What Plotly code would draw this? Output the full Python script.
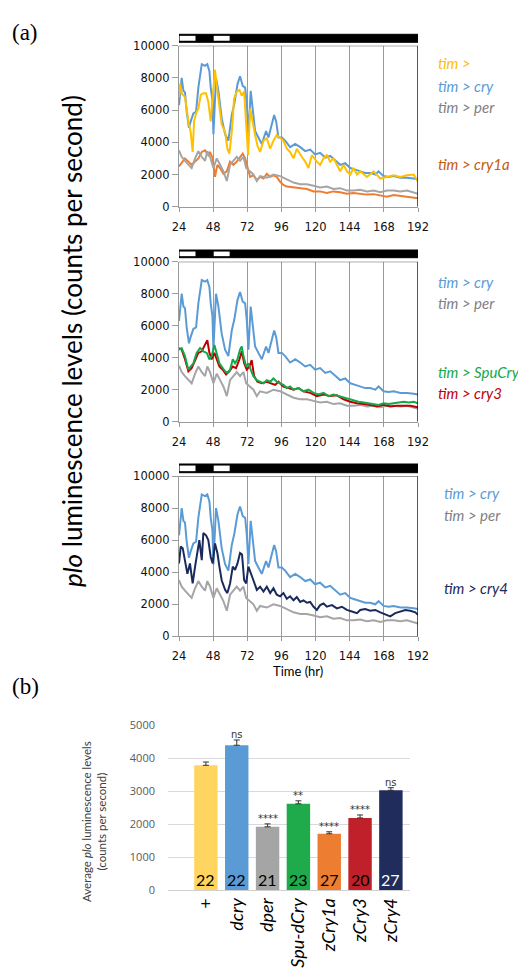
import plotly.graph_objects as go

# ---------------- data (panel a, values in thousands of counts/s) ----------------
cry_t = [24, 25.9, 27.1, 28.2, 29.4, 31.0, 32.2, 34.1, 36.0, 37.6, 40.0, 42.3, 43.9, 45.4, 46.3, 47.5, 48.2,
         50.0, 51.7, 54.0, 56.4, 58.7, 61.1, 62.9, 65.1, 66.9, 68.8, 70.5, 71.6, 72.8, 74.4, 75.9, 77.5,
         79.8, 82.2, 85.2, 86.9, 89.2, 90.9, 92.3, 93.9, 96.3, 98.6, 102.1, 105.7, 109.2, 112.7, 116.2,
         119.7, 123.2, 126.8, 130.3, 133.8, 137.3, 140.8, 144.4, 147.9, 151.4, 154.9, 158.4, 162.0, 164.3,
         167.8, 171.4, 174.9, 179.6, 184.3, 189.0, 192.0]
cry_v = [6.3, 8.0, 7.2, 7.1, 5.9, 4.9, 5.3, 5.8, 5.9, 7.4, 8.85, 8.75, 8.85, 8.4, 7.4, 6.6, 4.5,
         8.0, 7.2, 5.5, 4.5, 4.1, 5.7, 6.4, 7.6, 8.1, 7.5, 7.4, 6.4, 4.5, 7.2, 5.9, 4.7,
         4.3, 3.9, 4.7, 4.3, 5.1, 5.7, 5.3, 4.3, 4.3, 4.1, 3.7, 3.9, 3.7, 3.45, 3.55,
         3.25, 3.35, 3.05, 3.15, 2.85, 2.6, 2.7, 2.4, 2.3, 2.2, 2.1, 2.1, 2.0, 2.2,
         1.9, 1.85, 1.9, 1.8, 1.8, 1.75, 1.7]

per_t = [24, 25.9, 28.2, 30.6, 32.9, 35.3, 37.6, 40.0, 42.3, 43.9, 45.8, 48.2, 50.5, 52.9, 55.2, 57.6,
         59.9, 62.2, 64.6, 66.9, 69.3, 71.2, 73.5, 76.3, 78.7, 81.0, 85.7, 90.4, 95.1, 99.8, 104.5,
         109.2, 113.9, 118.6, 123.2, 127.9, 132.6, 137.3, 142.0, 146.7, 151.4, 156.1, 160.8, 165.5,
         170.2, 174.9, 179.6, 184.3, 189.0, 192.0]
per_v = [3.5, 3.1, 2.85, 2.6, 2.4, 3.0, 3.45, 3.1, 2.85, 3.45, 3.1, 2.4, 3.0, 2.6, 2.2, 1.6,
         2.6, 2.85, 3.1, 2.85, 3.1, 2.4, 2.2, 2.0, 1.6, 1.9, 1.8, 2.0, 1.9, 1.7, 1.5,
         1.4, 1.4, 1.3, 1.2, 1.25, 1.1, 1.15, 1.0, 1.0, 1.05, 0.95, 1.0, 0.9,
         1.0, 1.0, 0.95, 1.0, 0.9, 0.8]

tim_t = [24, 24.7, 25.9, 28.2, 30.6, 32.2, 33.6, 34.6, 36.0, 37.6, 39.3, 41.1, 43.0, 44.6, 46.3, 47.7,
         49.3, 50.5, 52.4, 54.0, 56.4, 58.0, 59.4, 61.1, 62.7, 64.6, 66.5, 68.1, 69.8, 71.2, 72.6,
         74.0, 75.9, 77.5, 79.1, 81.0, 83.4, 85.7, 88.1, 90.4, 92.7, 95.1, 97.4, 99.8, 102.1, 104.5,
         106.8, 110.3, 112.7, 115.0, 117.4, 120.9, 123.2, 125.6, 127.9, 130.3, 132.6, 135.0, 137.3,
         139.7, 142.0, 144.4, 146.7, 149.1, 151.4, 156.1, 160.8, 165.5, 170.2, 174.9, 179.6, 184.3,
         189.0, 192.0]
tim_v = [6.8, 7.65, 7.05, 6.8, 5.3, 4.65, 3.4, 5.3, 5.8, 6.1, 6.95, 7.05, 7.05, 6.5, 5.3, 6.9,
         8.5, 7.55, 6.3, 5.1, 4.65, 3.6, 3.3, 4.65, 6.7, 7.15, 7.25, 6.9, 7.15, 5.1, 3.2,
         6.1, 5.1, 4.45, 3.8, 3.4, 4.1, 4.25, 3.6, 4.1, 4.45, 4.25, 4.1, 3.6, 3.4, 3.0,
         3.6, 3.1, 2.8, 2.4, 3.2, 2.8, 2.6, 3.0, 3.2, 2.8, 3.0, 2.6, 2.2,
         2.6, 2.2, 2.0, 2.4, 2.0, 2.2, 1.85, 2.2, 1.75, 1.85, 1.95, 1.85, 1.95,
         2.0, 1.55]

cry1a_t = [24, 25.9, 28.2, 30.6, 32.9, 35.3, 37.6, 40.0, 42.3, 44.6, 45.8, 47.7, 49.3, 51.0, 52.9, 55.2,
           57.6, 59.9, 62.2, 64.6, 66.9, 68.8, 70.5, 72.1, 74.0, 76.3, 78.7, 81.0, 83.4, 85.7, 88.1,
           90.4, 92.7, 95.1, 97.4, 99.8, 104.5, 109.2, 113.9, 118.6, 123.2, 127.9, 132.6, 137.3, 142.0,
           146.7, 151.4, 156.1, 160.8, 165.5, 170.2, 174.9, 179.6, 184.3, 189.0, 192.0]
cry1a_v = [2.5, 2.7, 3.0, 2.8, 2.6, 2.8, 3.0, 3.4, 3.5, 3.2, 3.4, 3.0, 1.85, 2.6, 2.4, 2.05,
           2.2, 2.8, 2.6, 2.8, 3.1, 3.3, 3.0, 2.4, 1.85, 1.95, 1.65, 1.85, 1.75, 2.05, 1.85,
           1.95, 1.85, 1.55, 1.35, 1.25, 1.2, 1.15, 1.1, 0.95, 0.95, 0.85, 0.95, 0.9, 0.8,
           0.85, 0.78, 0.75, 0.78, 0.7, 0.62, 0.72, 0.66, 0.62, 0.56, 0.52]

spu_t = [24, 25.9, 28.2, 30.6, 32.2, 34.1, 36.4, 38.8, 41.1, 43.5, 45.4, 47.0, 48.9, 50.5, 52.4, 54.0,
         56.4, 58.0, 59.9, 61.8, 63.4, 65.1, 66.9, 68.1, 69.3, 71.2, 72.8, 74.4, 76.3, 78.7, 81.0,
         83.4, 85.7, 88.1, 90.4, 92.7, 95.1, 97.4, 99.8, 102.1, 104.5, 108.0, 111.5, 115.0, 118.6,
         122.1, 125.6, 129.1, 132.6, 136.2, 139.7, 143.2, 146.7, 150.2, 153.8, 157.3, 160.8, 164.3,
         167.8, 171.4, 174.9, 178.4, 181.9, 185.4, 189.0, 192.0]
spu_v = [4.5, 4.6, 4.1, 3.25, 3.45, 3.65, 4.3, 4.6, 4.4, 4.3, 3.9, 4.1, 4.8, 4.3, 3.65, 3.45,
         3.15, 3.05, 3.25, 3.9, 3.65, 3.9, 4.5, 4.7, 4.1, 3.45, 3.65, 3.25, 2.85, 2.6, 2.5,
         2.4, 2.6, 2.5, 2.7, 2.5, 2.4, 2.3, 2.1, 2.2, 2.0, 2.1, 1.9, 2.0, 1.8,
         1.7, 1.8, 1.6, 1.7, 1.6, 1.5, 1.4, 1.3, 1.25, 1.2, 1.15, 1.1, 1.05,
         1.15, 1.1, 1.15, 1.2, 1.25, 1.2, 1.25, 1.15]

cry3_t = [24, 25.9, 28.2, 30.6, 32.9, 35.3, 37.6, 40.0, 42.3, 43.9, 45.4, 47.0, 48.9, 50.5, 52.4, 54.7,
          57.1, 59.4, 61.8, 64.1, 66.5, 68.1, 69.8, 71.6, 73.5, 75.1, 76.8, 79.1, 82.2, 85.7, 89.2,
          91.6, 93.9, 97.4, 101.0, 104.5, 108.0, 111.5, 116.2, 120.9, 125.6, 130.3, 135.0, 139.7,
          144.4, 149.1, 153.8, 158.4, 163.1, 167.8, 172.5, 177.2, 181.9, 186.6, 192.0]
cry3_v = [4.6, 4.5, 3.9, 3.15, 3.35, 3.9, 4.3, 4.4, 4.8, 5.1, 4.3, 3.9, 4.3, 3.9, 3.45, 3.25,
          2.95, 3.15, 3.45, 3.35, 3.9, 4.4, 3.65, 3.25, 3.45, 3.85, 2.85, 2.5, 2.4, 2.5, 2.4,
          2.3, 2.5, 2.2, 2.1, 2.0, 2.1, 1.9, 1.8, 1.6, 1.7, 1.6, 1.65, 1.4,
          1.25, 1.15, 1.1, 1.05, 0.95, 1.05, 0.95, 1.0, 1.0, 1.0, 0.9]

cry4_t = [24, 25.2, 26.6, 28.2, 29.9, 31.7, 33.6, 35.3, 36.9, 38.3, 40.0, 41.1, 43.0, 44.6, 46.3, 47.7,
          49.3, 51.0, 52.4, 54.0, 56.4, 58.0, 59.9, 61.8, 63.4, 65.1, 66.9, 68.3, 69.8, 71.2, 72.8,
          74.4, 76.3, 78.7, 81.0, 83.4, 85.7, 88.1, 90.4, 92.7, 95.1, 97.4, 99.8, 102.1, 104.5, 106.8,
          109.2, 111.5, 113.9, 116.2, 118.6, 120.9, 123.2, 125.6, 127.9, 131.5, 135.0, 138.5, 142.0,
          145.5, 149.1, 151.4, 154.9, 158.4, 162.0, 165.5, 169.0, 172.5, 176.0, 179.6, 183.1, 186.6,
          190.1, 192.0]
cry4_v = [4.55, 5.6, 5.5, 4.75, 3.9, 4.55, 3.3, 4.35, 5.4, 6.0, 4.75, 6.45, 6.3, 6.0, 4.95, 4.55,
          5.8, 5.2, 4.35, 3.5, 2.9, 2.7, 3.3, 4.35, 4.15, 4.55, 5.2, 5.1, 3.5, 3.3, 4.35,
          4.0, 3.5, 2.9, 3.1, 2.8, 3.1, 2.7, 3.0, 2.6, 2.5, 2.7, 2.35, 2.5, 2.25, 2.45,
          2.15, 2.25, 2.1, 2.15, 1.85, 1.65, 1.95, 2.05, 1.85, 1.95, 1.75, 1.85, 1.65,
          1.55, 1.45, 1.65, 1.7, 1.6, 1.65, 1.5, 1.35, 1.25, 1.45, 1.55, 1.65, 1.6,
          1.5, 1.35]

light_periods = [(24, 36), (48, 60)]
x_ticks = [24, 48, 72, 96, 120, 144, 168, 192]
y_ticks = [0, 2000, 4000, 6000, 8000, 10000]

# ---------------- data (panel b) ----------------
genotypes = ["+", "dcry", "dper", "Spu-dCry", "zCry1a", "zCry3", "zCry4"]
means = [3790, 4400, 1920, 2620, 1710, 2190, 3030]
sems = [100, 160, 90, 90, 60, 90, 80]
n_flies = [22, 22, 21, 23, 27, 20, 27]
signif = ["", "ns", "****", "**", "****", "****", "ns"]
bar_ticks = [0, 1000, 2000, 3000, 4000, 5000]
bar_colors = ["#FFD55F", "#5B9BD5", "#A5A5A5", "#1FAA4B", "#ED7D31", "#C0202A", "#1F2C5C"]
n_colors = ["black", "black", "black", "black", "black", "black", "white"]

C = dict(tim="#FFC000", cry="#5B9BD5", per="#A5A5A5", cry1a="#ED7D31",
         spu="#13A84A", cry3="#C00000", cry4="#1B2A5C")

def k(vals):
    return [v * 1000 for v in vals]

fig = go.Figure()

panels = [
    ("x", "y", [("cry", cry_t, cry_v), ("cry1a", cry1a_t, cry1a_v), ("per", per_t, per_v), ("tim", tim_t, tim_v)]),
    ("x2", "y2", [("cry", cry_t, cry_v), ("per", per_t, per_v), ("cry3", cry3_t, cry3_v), ("spu", spu_t, spu_v)]),
    ("x3", "y3", [("cry", cry_t, cry_v), ("per", per_t, per_v), ("cry4", cry4_t, cry4_v)]),
]
for xa, ya, series in panels:
    for key, t, v in series:
        fig.add_trace(go.Scatter(x=t, y=k(v), mode="lines", xaxis=xa, yaxis=ya,
                                 line=dict(color=C[key], width=2), showlegend=False))

fig.add_trace(go.Bar(x=list(range(len(genotypes))), y=means, xaxis="x4", yaxis="y4",
                     marker=dict(color=bar_colors, line=dict(width=0)), width=0.76,
                     error_y=dict(type="data", array=sems, arrayminus=[0] * len(sems), symmetric=False,
                                  color="#333333", thickness=1, width=3),
                     showlegend=False))

# page body has an 8px default margin: figure is placed at (8, 8)
OFF = 8
W, H = 526 - OFF, 974 - OFF
def px(p):
    return (p - OFF) / W
def py(p):
    return 1 - (p - OFF) / H

xdom = [px(179), px(418)]
ydoms = [[py(206.7), py(45.7)], [py(421.7), py(261.7)], [py(636.4), py(476)]]
tick_font = dict(family="DejaVu Sans", size=11.5, color="#111111")

layout = dict(width=W, height=H, margin=dict(l=0, r=0, t=0, b=0, autoexpand=False),
              paper_bgcolor="white", plot_bgcolor="white", showlegend=False)
for i, yd in enumerate(ydoms):
    sx = "" if i == 0 else str(i + 1)
    layout["xaxis" + sx] = dict(domain=xdom, range=[24, 192], tickvals=x_ticks, showgrid=True,
                                gridcolor="#9A9A9A", gridwidth=1, showline=True, linecolor="#9A9A9A",
                                ticks="outside", ticklen=4, tickcolor="#9A9A9A", tickfont=tick_font,
                                ticklabelstandoff=5,
                                anchor="y" + sx, zeroline=False, fixedrange=True, automargin=False)
    layout["yaxis" + sx] = dict(domain=yd, range=[0, 10000], tickvals=y_ticks,
                                ticktext=[str(v) for v in y_ticks], showgrid=False,
                                showline=True, linecolor="#9A9A9A", ticks="outside", ticklen=6,
                                tickcolor="#9A9A9A", tickfont=tick_font, anchor="x" + sx,
                                zeroline=False, fixedrange=True, automargin=False)

layout["xaxis4"] = dict(domain=[px(168), px(410)], range=[-1.23, 6.62], anchor="y4",
                        tickvals=list(range(len(genotypes))),
                        ticktext=[g if g == "+" else "<i>" + g + "</i>" for g in genotypes],
                        tickangle=-90, tickfont=dict(family="Lato", size=18, color="black"),
                        showline=True, linecolor="#D0D0D0", ticks="", showgrid=False, zeroline=False,
                        automargin=False)
layout["yaxis4"] = dict(domain=[py(890), py(725.5)], range=[0, 5000], anchor="x4",
                        tickvals=bar_ticks, ticktext=[str(v) for v in bar_ticks],
                        showgrid=True, gridcolor="#D9D9D9",
                        tickfont=dict(family="Open Sans", size=11, color="#595959"), ticks="",
                        showline=False, zeroline=False, ticklabelstandoff=12, automargin=False)
fig.update_layout(**layout)

shapes = []
bar_y = [(py(42.3), py(34.3)), (py(257.7), py(250)), (py(472.7), py(464))]
for i, (y0, y1) in enumerate(bar_y):
    xr = "x" if i == 0 else "x" + str(i + 1)
    yr = "y" if i == 0 else "y" + str(i + 1)
    shapes.append(dict(type="rect", xref=xr, yref="paper", x0=24, x1=193, y0=y0, y1=y1,
                       fillcolor="black", line=dict(color="black", width=1)))
    for a, b in light_periods:
        shapes.append(dict(type="rect", xref=xr, yref="paper", x0=a + 0.4, x1=b - 0.4,
                           y0=y0 + 0.0016, y1=y1 - 0.0016, fillcolor="white", line=dict(width=0)))
    shapes.append(dict(type="line", xref=xr, yref=yr, x0=192, x1=192, y0=0, y1=10000,
                       line=dict(color="black", width=1.3)))
    shapes.append(dict(type="line", xref=xr, yref=yr, x0=24, x1=192, y0=10000, y1=10000,
                       line=dict(color="#333333", width=1)))
fig.update_layout(shapes=shapes)

ann = []
lab_font = "Lato"
legend_items = [
    ("tim >", C["tim"], 63.5, 436), ("tim > cry", C["cry"], 86, 436), ("tim > per", "#7F7F7F", 107.5, 436),
    ("tim > cry1a", "#C55A11", 164, 436),
    ("tim > cry", C["cry"], 281.5, 436), ("tim > per", "#7F7F7F", 302.5, 436),
    ("tim > SpuCry", "#13A84A", 371.5, 436), ("tim > cry3", "#C00000", 393, 436),
    ("tim > cry", C["cry"], 493, 442), ("tim > per", "#7F7F7F", 515, 442),
    ("tim > cry4", "#1B2A5C", 588, 442),
]
for txt, col, yy, xx in legend_items:
    ann.append(dict(text="<i>" + txt.replace(">", "&gt;") + "</i>", x=px(xx), y=py(yy), xref="paper",
                    yref="paper", xanchor="left", yanchor="middle", showarrow=False,
                    font=dict(family=lab_font, size=15, color=col)))

ann.append(dict(text="<i>plo</i> luminescence levels (counts per second)", x=px(72), y=py(341),
                xref="paper", yref="paper", textangle=-90, showarrow=False,
                xanchor="center", yanchor="middle",
                font=dict(family=lab_font, size=26, color="black")))
ann.append(dict(text="Time (hr)", x=px(298), y=py(671), xref="paper", yref="paper", showarrow=False,
                xanchor="center", yanchor="middle",
                font=dict(family=lab_font, size=13, color="black")))
ann.append(dict(text="(a)", x=px(10), y=py(18), xref="paper", yref="paper", xanchor="left",
                showarrow=False, font=dict(family="Liberation Serif", size=23, color="black")))
ann.append(dict(text="(b)", x=px(10), y=py(701), xref="paper", yref="paper", xanchor="left",
                showarrow=False, font=dict(family="Liberation Serif", size=23, color="black")))
ann.append(dict(text="Average <i>plo</i> luminescence levels<br>(counts per second)", x=px(94), y=py(822),
                xref="paper", yref="paper", textangle=-90, showarrow=False,
                xanchor="center", yanchor="middle",
                font=dict(family=lab_font, size=11.5, color="#404040")))

for i, g in enumerate(genotypes):
    ann.append(dict(text=str(n_flies[i]), x=i, y=0, xref="x4", yref="y4", yanchor="bottom",
                    showarrow=False, yshift=-1, font=dict(family=lab_font, size=16, color=n_colors[i])))
    if signif[i]:
        ann.append(dict(text=signif[i], x=i, y=means[i] + sems[i], xref="x4", yref="y4",
                        yanchor="bottom", showarrow=False, yshift=-2,
                        font=dict(family="DejaVu Sans", size=10, color="#333333")))
fig.update_layout(annotations=ann)

fig.write_html("out.html")
